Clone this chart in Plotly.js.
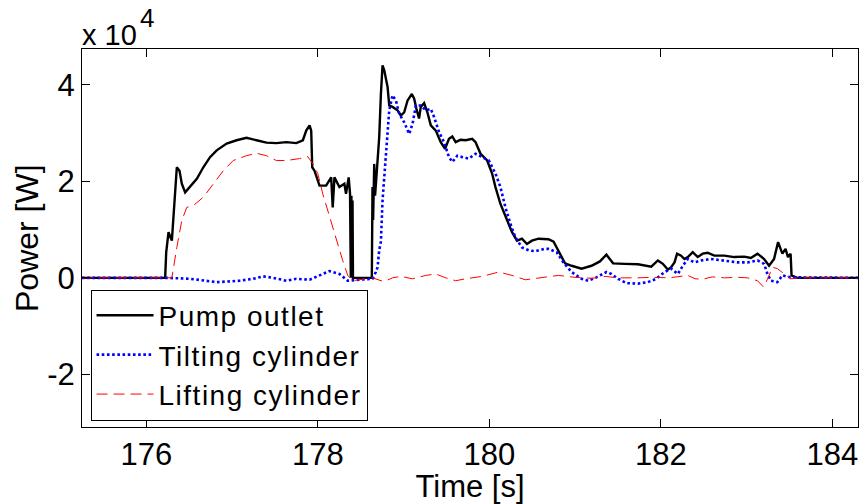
<!DOCTYPE html>
<html>
<head>
<meta charset="utf-8">
<script src="https://cdn.plot.ly/plotly-3.0.1.min.js"></script>
<style>html,body{margin:0;padding:0;background:#fff;}#chart{width:862px;height:504px;}
.legendtext{letter-spacing:1.5px;}</style>
</head>
<body>
<div id="chart"></div>
<script>
// Power values are in units of 1e4 W (axis multiplier "x 10^4")
const pumpTime = [175.25,176.22,176.232,176.259,176.298,176.317,176.337,176.356,176.387,176.414,176.453,176.511,176.589,176.665,176.743,176.821,176.937,177.053,177.169,177.285,177.401,177.517,177.633,177.749,177.826,177.865,177.904,177.923,177.935,177.961,178.020,178.097,178.156,178.174,178.194,178.252,178.310,178.329,178.360,178.376,178.385,178.392,178.398,178.405,178.41,178.63,178.638,178.645,178.65,178.658,178.668,178.678,178.697,178.716,178.736,178.755,178.775,178.814,178.833,178.872,178.930,178.969,179.008,179.046,179.097,179.124,179.150,179.181,179.201,179.240,179.278,179.318,179.376,179.434,179.484,179.530,179.569,179.608,179.666,179.724,179.801,179.840,179.898,179.975,180.033,180.072,180.130,180.207,180.265,180.323,180.381,180.439,180.497,180.574,180.690,180.75,180.806,180.883,180.960,181.076,181.192,181.290,181.366,181.444,181.580,181.734,181.889,181.966,182.024,182.082,182.121,182.160,182.190,182.237,182.276,182.315,182.373,182.431,182.489,182.547,182.624,182.741,182.857,182.973,183.050,183.128,183.205,183.263,183.321,183.368,183.418,183.455,183.483,183.514,183.525,183.591,184.3];
const pumpPower = [0,0,0.53,0.945,0.77,1.33,1.88,2.29,2.22,1.95,1.77,1.88,2.05,2.29,2.50,2.64,2.78,2.85,2.90,2.85,2.80,2.79,2.81,2.79,2.85,3.05,3.16,3.05,2.29,2.22,1.91,1.91,2.08,1.46,2.08,1.88,1.95,1.74,2.08,1.74,0,1.70,0,1.60,0,0,1.88,1.2,2.0,2.36,1.7,1.95,2.43,2.91,3.81,4.40,4.30,3.95,3.57,3.54,3.47,3.36,3.43,3.67,3.81,3.71,3.50,3.30,3.54,3.62,3.43,3.16,3.05,2.81,2.67,2.88,2.93,2.81,2.86,2.85,2.88,2.81,2.57,2.43,2.16,1.88,1.53,1.19,0.945,0.77,0.81,0.70,0.77,0.81,0.80,0.75,0.55,0.30,0.25,0.19,0.25,0.34,0.48,0.30,0.29,0.28,0.23,0.36,0.29,0.17,0.22,0.32,0.50,0.46,0.39,0.43,0.53,0.43,0.50,0.52,0.46,0.46,0.43,0.44,0.41,0.50,0.39,0.25,0.39,0.74,0.50,0.60,0.43,0.50,0.05,0,0];

const tiltTime = [175.25,176.24,176.511,176.821,177.091,177.246,177.362,177.478,177.633,177.749,177.904,178.020,178.136,178.252,178.349,178.483,178.638,178.677,178.697,178.716,178.736,178.755,178.794,178.833,178.872,178.911,178.950,179.008,179.066,179.105,179.144,179.202,179.260,179.318,179.356,179.414,179.472,179.530,179.569,179.627,179.685,179.762,179.840,179.917,179.995,180.072,180.130,180.188,180.246,180.304,180.381,180.459,180.536,180.644,180.690,180.786,180.864,180.960,181.076,181.153,181.250,181.366,181.424,181.502,181.599,181.734,181.850,181.947,182.044,182.121,182.199,182.257,182.315,182.392,182.470,182.586,182.741,182.895,183.011,183.128,183.205,183.244,183.283,183.360,183.418,183.514,184.3];
const tiltPower = [0,0,-0.02,-0.09,-0.06,-0.02,0.03,0,-0.06,-0.02,-0.04,0.05,0.14,0.08,-0.06,-0.04,-0.02,0.12,0.22,0.57,0.75,1.60,2.64,3.47,3.78,3.67,3.40,3.22,2.98,3.19,3.57,3.57,3.47,3.50,3.33,3.02,2.81,2.50,2.40,2.53,2.50,2.47,2.57,2.50,2.43,2.16,1.88,1.46,1.12,0.84,0.63,0.57,0.55,0.60,0.60,0.53,0.32,0.12,-0.02,-0.06,0.01,0.12,0.08,-0.02,-0.11,-0.12,-0.09,-0.02,0.12,0.19,0.08,0.25,0.39,0.32,0.36,0.39,0.36,0.32,0.32,0.36,0.29,0.08,-0.06,-0.09,0.05,0.01,0];

const liftTime = [175.25,176.298,176.356,176.414,176.472,176.550,176.665,176.782,176.898,177.014,177.169,177.285,177.401,177.517,177.633,177.788,177.884,177.942,178.000,178.058,178.136,178.213,178.290,178.349,178.405,178.638,178.755,178.794,178.872,178.969,179.105,179.260,179.376,179.492,179.608,179.724,179.917,180.111,180.265,180.420,180.613,180.806,181.0,181.2,181.35,181.5,181.734,181.9,182.1,182.315,182.4,182.489,182.6,182.741,182.9,183.011,183.128,183.198,183.244,183.302,183.360,183.437,183.514,183.6,184.3];
const liftPower = [0,0,0.63,1.19,1.46,1.50,1.67,1.95,2.22,2.43,2.53,2.58,2.53,2.43,2.43,2.47,2.51,2.36,2.16,1.74,1.26,0.84,0.36,0.05,-0.06,0,-0.07,-0.06,0,0.03,-0.02,0.05,0.08,0,-0.06,-0.02,0.03,0.12,0.05,-0.04,0.01,0.05,0.01,-0.01,0.03,0,0,0.01,0,0.05,-0.02,-0.03,0.02,0,0.01,0,-0.06,-0.19,-0.03,0.22,0.19,0.08,-0.02,0,0];

const seriesNames = ['Pump outlet','Tilting cylinder','Lifting cylinder'];
const xTicks = [176,178,180,182,184];
const yTicks = [-2,0,2,4];
const yTickText = ['-2','0','2','4'];
const xTitle = 'Time [s]';
const yTitle = 'Power [W]';
const multiplierBase = 'x 10';
const multiplierExp = '4';

const FONT = 'Liberation Sans, Arial, Helvetica, sans-serif';

const traces = [
  {x: pumpTime, y: pumpPower, name: seriesNames[0], type: 'scatter', mode: 'lines',
   line: {color: '#000000', width: 2.4}},
  {x: tiltTime, y: tiltPower, name: seriesNames[1], type: 'scatter', mode: 'lines',
   line: {color: '#0000ff', width: 2.6, dash: '2.6px,2.6px'}},
  {x: liftTime, y: liftPower, name: seriesNames[2], type: 'scatter', mode: 'lines',
   line: {color: '#ff0000', width: 1, dash: '11px,6px'}}
];

const axisCommon = {
  showline: true, linecolor: '#000', linewidth: 1, mirror: 'ticks',
  ticks: 'inside', ticklen: 8, tickcolor: '#000', tickwidth: 1,
  showgrid: false, zeroline: false,
  tickfont: {family: FONT, size: 31, color: '#000'}
};

const layout = {
  width: 862, height: 504,
  margin: {l: 82, r: 4, t: 49, b: 77, pad: 0},
  paper_bgcolor: '#fff', plot_bgcolor: '#fff',
  font: {family: FONT, color: '#000'},
  showlegend: true,
  xaxis: Object.assign({}, axisCommon, {
    range: [175.25, 184.3], tickvals: xTicks, ticktext: xTicks.map(String),
    title: {text: xTitle, font: {family: FONT, size: 31, color: '#000'}, standoff: 3}
  }),
  yaxis: Object.assign({}, axisCommon, {
    range: [-3.09, 4.74], tickvals: yTicks, ticktext: yTickText
  }),
  legend: {
    x: 0.011, y: 0.017, xanchor: 'left', yanchor: 'bottom',
    bgcolor: '#fff', bordercolor: '#000', borderwidth: 1,
    font: {family: FONT, size: 28, color: '#000'},
    itemwidth: 57, tracegroupgap: 0
  },
  annotations: [
    {xref: 'paper', yref: 'paper', x: -0.0709, y: 0.5, xanchor: 'center', yanchor: 'middle',
     text: yTitle, textangle: -90, showarrow: false,
     font: {family: FONT, size: 32, color: '#000'}},
    {xref: 'paper', yref: 'paper', x: -0.002, y: 1.036, xanchor: 'left', yanchor: 'middle',
     text: multiplierBase, showarrow: false,
     font: {family: FONT, size: 29, color: '#000'}},
    {xref: 'paper', yref: 'paper', x: 0.0835, y: 1.082, xanchor: 'center', yanchor: 'middle',
     text: multiplierExp, showarrow: false,
     font: {family: FONT, size: 26, color: '#000'}}
  ]
};

Plotly.newPlot('chart', traces, layout, {displayModeBar: false, staticPlot: true});
</script>
</body>
</html>
